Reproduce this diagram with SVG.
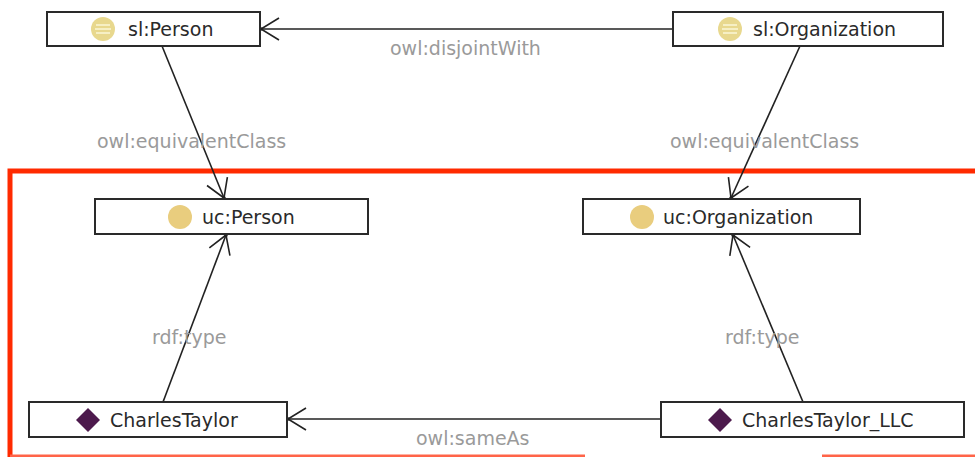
<svg xmlns="http://www.w3.org/2000/svg" width="975" height="457" viewBox="0 0 975 457">
<style>
.box{fill:#fff;stroke:#2a2a2a;stroke-width:2}
.name{font-family:"DejaVu Sans",Verdana,sans-serif;font-size:19px;fill:#2a2a2a}
.lbl{font-family:"DejaVu Sans",Verdana,sans-serif;font-size:19px;fill:#9a9a9a}
.edge{stroke:#222;stroke-width:1.6;fill:none;marker-end:url(#arr)}
.cls{fill:#e9cd7e}
.eq{fill:#e8d88e}
.eqline{stroke:#f6efc4;stroke-width:2}
.ind{fill:#4d1a4d}
</style>
<defs>
<marker id="arr" viewBox="-20 -13 22 26" markerWidth="22" markerHeight="26" refX="0" refY="0" markerUnits="userSpaceOnUse" orient="auto">
<path d="M-18,-11 L0,0 L-18,11" fill="none" stroke="#222" stroke-width="1.6"/>
<circle cx="0" cy="0" r="1.8" fill="#222"/>
</marker>
</defs>
<rect width="975" height="457" fill="#fff"/>
<g id="frame" fill="none">
<path d="M10,457 V171 H975" stroke="#ff2a00" stroke-width="5"/>
<path d="M10,456 H585 M822,456 H975" stroke="#ff6448" stroke-width="3"/>
</g>
<g id="connectors">
<line class="edge" x1="673" y1="29" x2="261" y2="29"/>
<line class="edge" x1="162" y1="46" x2="224" y2="198"/>
<line class="edge" x1="800" y1="46" x2="731" y2="198"/>
<line class="edge" x1="163" y1="402" x2="226" y2="235"/>
<line class="edge" x1="803" y1="402" x2="733" y2="235"/>
<line class="edge" x1="661" y1="419" x2="288" y2="419"/>
<text class="lbl" x="390" y="55">owl:disjointWith</text>
<text class="lbl" x="97" y="148">owl:equivalentClass</text>
<text class="lbl" x="670" y="148">owl:equivalentClass</text>
<text class="lbl" x="152" y="344">rdf:type</text>
<text class="lbl" x="725" y="344">rdf:type</text>
<text class="lbl" x="416" y="445">owl:sameAs</text>
</g>
<g id="sl-person">
<rect class="box" x="47" y="12" width="213" height="34"/>
<circle class="eq" cx="103" cy="29" r="12"/>
<path class="eqline" d="M96,25 H110 M95,29 H111 M96,33 H110"/>
<text class="name" x="128" y="36">sl:Person</text>
</g>
<g id="sl-organization">
<rect class="box" x="673" y="12" width="270" height="34"/>
<circle class="eq" cx="730" cy="29" r="12"/>
<path class="eqline" d="M723,25 H737 M722,29 H738 M723,33 H737"/>
<text class="name" x="753" y="36">sl:Organization</text>
</g>
<g id="uc-person">
<rect class="box" x="95" y="199" width="273" height="35"/>
<circle class="cls" cx="180" cy="217" r="12"/>
<text class="name" x="202" y="224">uc:Person</text>
</g>
<g id="uc-organization">
<rect class="box" x="583" y="199" width="277" height="35"/>
<circle class="cls" cx="642" cy="217" r="12"/>
<text class="name" x="663" y="224">uc:Organization</text>
</g>
<g id="charles-taylor">
<rect class="box" x="29" y="402" width="258" height="35"/>
<path class="ind" d="M88,408 L100,420 L88,432 L76,420 Z"/>
<text class="name" x="110" y="427">CharlesTaylor</text>
</g>
<g id="charles-taylor-llc">
<rect class="box" x="661" y="402" width="303" height="35"/>
<path class="ind" d="M720,408 L732,420 L720,432 L708,420 Z"/>
<text class="name" x="742" y="427">CharlesTaylor_LLC</text>
</g>
</svg>
